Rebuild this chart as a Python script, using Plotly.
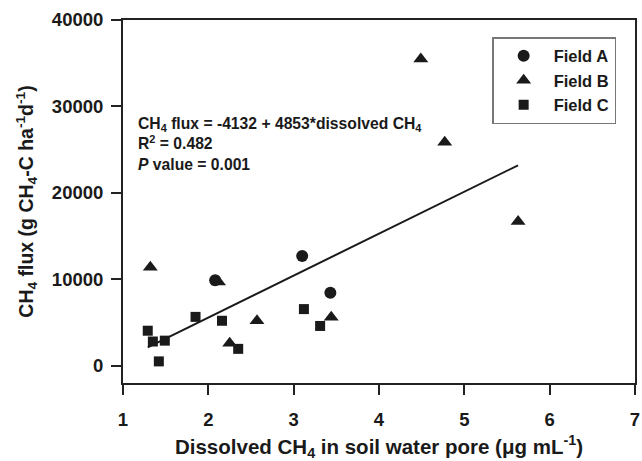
import plotly.graph_objects as go

# Data
field_a_x = [2.08, 3.10, 3.43]
field_a_y = [9900, 12700, 8450]

field_b_x = [4.49, 4.77, 5.63, 1.32, 2.12, 2.57, 2.25, 3.44]
field_b_y = [35500, 25850, 16700, 11400, 9700, 5200, 2600, 5600]

field_c_x = [1.29, 1.35, 1.49, 1.42, 1.85, 2.16, 2.35, 3.12, 3.31]
field_c_y = [4050, 2800, 2900, 500, 5650, 5200, 1950, 6550, 4600]

intercept = -4132
slope = 4853

x_ticks = [1, 2, 3, 4, 5, 6, 7]
y_ticks = [0, 10000, 20000, 30000, 40000]
y_tick_text = ["0", "10000", "20000", "30000", "40000"]

all_x = field_a_x + field_b_x + field_c_x
line_x = [min(all_x), max(all_x)]
line_y = [intercept + slope * v for v in line_x]

FONT = "Liberation Sans, Arial, Helvetica, sans-serif"
INK = "#1a1a1a"

fig = go.Figure()
fig.add_trace(go.Scatter(x=line_x, y=line_y, mode="lines",
                         line=dict(color=INK, width=2), showlegend=False,
                         hoverinfo="skip"))
fig.add_trace(go.Scatter(x=field_a_x, y=field_a_y, mode="markers", name="Field A",
                         marker=dict(symbol="circle", size=12, color=INK)))
fig.add_trace(go.Scatter(x=field_b_x, y=field_b_y, mode="markers", name="Field B",
                         marker=dict(symbol="triangle-up", size=13, color=INK)))
fig.add_trace(go.Scatter(x=field_c_x, y=field_c_y, mode="markers", name="Field C",
                         marker=dict(symbol="square", size=10, color=INK)))

fig.add_annotation(
    x=1.15, y=25600, xref="x", yref="y", xanchor="left", yanchor="middle",
    align="left", showarrow=False,
    text=("CH<sub>4</sub> flux = -4132 + 4853*dissolved CH<sub>4</sub><br>"
          "R<sup>2</sup> = 0.482<br>"
          "<i>P</i> value = 0.001"),
    font=dict(family=FONT, size=15.7, color=INK, weight="bold"),
)

axis_common = dict(
    showgrid=False, zeroline=False, showline=True, linecolor="#222",
    linewidth=2, ticks="outside", ticklen=10, tickwidth=2, tickcolor="#222",
    mirror=True,
    tickfont=dict(family=FONT, size=18.5, color=INK, weight="bold"),
)

fig.update_layout(
    width=642, height=461,
    margin=dict(l=123, r=2, t=20, b=76),
    plot_bgcolor="white", paper_bgcolor="white",
    font=dict(family=FONT, color=INK, weight="bold"),
    xaxis=dict(range=[1, 7], tickvals=x_ticks,
               ticklabelstandoff=9, ticklabeloverflow="allow",
               title=dict(text="Dissolved CH<sub>4</sub> in soil water pore (μg mL<sup>-1</sup>)",
                          font=dict(family=FONT, size=20.5, color=INK, weight="bold"),
                          standoff=14),
               **axis_common),
    yaxis=dict(range=[-2000, 40000], tickvals=y_ticks, ticktext=y_tick_text,
               ticklabelstandoff=4,
               title=dict(text="CH<sub>4</sub> flux (g CH<sub>4</sub>-C ha<sup>-1</sup>d<sup>-1</sup>)",
                          font=dict(family=FONT, size=19.5, color=INK, weight="bold"),
                          standoff=13),
               **axis_common),
    legend=dict(x=0.721, y=0.953, xanchor="left", yanchor="top",
                bordercolor="#777", borderwidth=1.5, bgcolor="white",
                itemwidth=50,
                font=dict(family=FONT, size=16.5, color=INK, weight="bold")),
)

fig.write_html("out.html")
